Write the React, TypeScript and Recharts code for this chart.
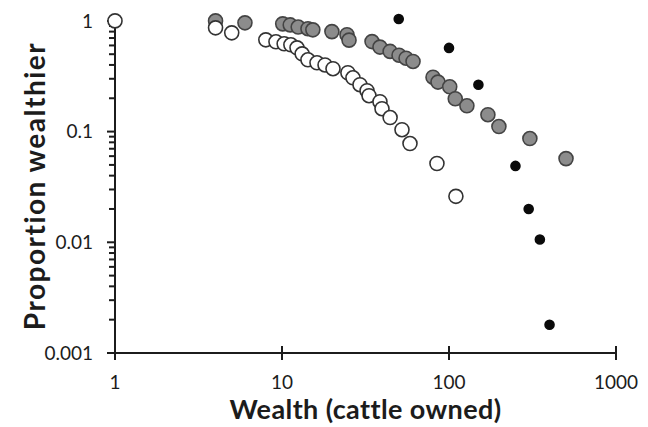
import React from "react";
import { ScatterChart, Scatter, XAxis, YAxis, Label } from "recharts";

// open circles
const whiteX = [1, 4, 5, 8, 9.2, 10.3, 11.3, 12.3, 13.2, 14.3, 16.2, 18.1, 20.2, 24.8, 26.6, 29.3, 32.3, 33.2, 38.6, 39.7, 44.4, 52.3, 58.4, 84.7, 110];
const whiteY = [1, 0.865, 0.78, 0.674, 0.647, 0.621, 0.608, 0.571, 0.504, 0.445, 0.418, 0.4, 0.37, 0.34, 0.306, 0.265, 0.234, 0.211, 0.186, 0.161, 0.134, 0.104, 0.078, 0.0515, 0.026];

// grey circles
const greyX = [4, 6, 10.1, 11.2, 12.5, 14.3, 15.3, 19.9, 24.5, 25.2, 34.6, 38.6, 44.4, 50.2, 55.3, 60.9, 80.2, 85.9, 101, 109, 128, 171, 199, 305, 502];
const greyY = [1, 0.96, 0.94, 0.92, 0.88, 0.85, 0.83, 0.8, 0.75, 0.67, 0.65, 0.58, 0.53, 0.49, 0.46, 0.43, 0.31, 0.28, 0.254, 0.198, 0.171, 0.142, 0.111, 0.0865, 0.057];

// black dots
const blackX = [50, 100, 150, 250, 300, 350, 400];
const blackY = [1.04, 0.57, 0.265, 0.049, 0.02, 0.0106, 0.0018];

const xTicks = [1, 10, 100, 1000];
const yMajor = [0.001, 0.01, 0.1, 1];
const yTicks: number[] = [];
[0.001, 0.01, 0.1].forEach((d) => {
  for (let k = 1; k < 10; k++) yTicks.push(+(d * k).toPrecision(3));
});
yTicks.push(1);

const toPoints = (xs: number[], ys: number[]) => xs.map((x, i) => ({ x, y: ys[i] }));
const isMajor = (v: number) => yMajor.some((m) => Math.abs(m - v) < 1e-9);

// tick marks placed on the axes (x at domain min / y at domain min)
const yTickMarks = yTicks.map((y) => ({ x: xTicks[0], y }));
const xTickMarks = xTicks.map((x) => ({ x, y: yMajor[0] }));

const FONT = "Lato, 'DejaVu Sans', sans-serif";
const INK = "#1c1c1c";

const YTick = (props: any) => {
  const v = props.payload.value;
  if (!isMajor(v)) return <g />;
  return (
    <text x={Number(props.x) - 22} y={props.y} dy="0.35em" textAnchor="end" fontFamily={FONT} fontSize={19} fill={INK}>
      {v}
    </text>
  );
};

const XTick = (props: any) => (
  <text x={props.x} y={Number(props.y) + 36} textAnchor="middle" fontFamily={FONT} fontSize={19} fill={INK}>
    {props.payload.value}
  </text>
);

const yMark = (p: any) => {
  const len = isMajor(p.payload.y) ? 8 : 6;
  return <rect x={p.cx - len} y={p.cy - 1} width={len + 1} height={2} fill={INK} />;
};
const xMark = (p: any) => <rect x={p.cx - 1} y={p.cy - 7} width={2} height={14} fill={INK} />;

const circle = (fill: string, stroke: string, r: number) => (p: any) =>
  <circle cx={p.cx} cy={p.cy} r={r} fill={fill} stroke={stroke} strokeWidth={1.6} />;

export default function App() {
  return (
    <div style={{ position: "fixed", left: 0, top: 0, background: "#fff" }}>
      <ScatterChart width={648} height={427} margin={{ top: 19, right: 32, left: 8, bottom: 0 }}>
        <XAxis
          type="number"
          dataKey="x"
          scale="log"
          domain={[1, 1000]}
          ticks={xTicks}
          interval={0}
          height={74}
          tickSize={0}
          tickMargin={0}
          tickLine={false}
          tick={<XTick />}
          axisLine={{ stroke: INK, strokeWidth: 2 }}
        >
          <Label
            content={(p: any) => (
              <text x={p.viewBox.x + p.viewBox.width / 2} y={p.viewBox.y + 66} textAnchor="middle" fontFamily={FONT} fontWeight="bold" fontSize={27} letterSpacing={0.4} fill={INK}>
                Wealth (cattle owned)
              </text>
            )}
          />
        </XAxis>
        <YAxis
          type="number"
          dataKey="y"
          scale="log"
          domain={[0.001, 1]}
          ticks={yTicks}
          interval={0}
          width={107}
          tickSize={0}
          tickMargin={0}
          tickLine={false}
          tick={<YTick />}
          axisLine={{ stroke: INK, strokeWidth: 2 }}
        >
          <Label
            content={(p: any) => {
              const cx = 35;
              const cy = p.viewBox.y + p.viewBox.height / 2;
              return (
                <text x={cx} y={cy} transform={`rotate(-90 ${cx} ${cy})`} dy="0.35em" textAnchor="middle" fontFamily={FONT} fontWeight="bold" fontSize={28} letterSpacing={1.5} fill={INK}>
                  Proportion wealthier
                </text>
              );
            }}
          />
        </YAxis>
        <Scatter data={yTickMarks} isAnimationActive={false} shape={yMark} />
        <Scatter data={xTickMarks} isAnimationActive={false} shape={xMark} />
        <Scatter data={toPoints(greyX, greyY)} isAnimationActive={false} shape={circle("#8c8c8c", "#444", 7)} />
        <Scatter data={toPoints(whiteX, whiteY)} isAnimationActive={false} shape={circle("#ffffff", "#333", 7)} />
        <Scatter data={toPoints(blackX, blackY)} isAnimationActive={false} shape={circle("#0a0a0a", "#0a0a0a", 4.5)} />
      </ScatterChart>
    </div>
  );
}
